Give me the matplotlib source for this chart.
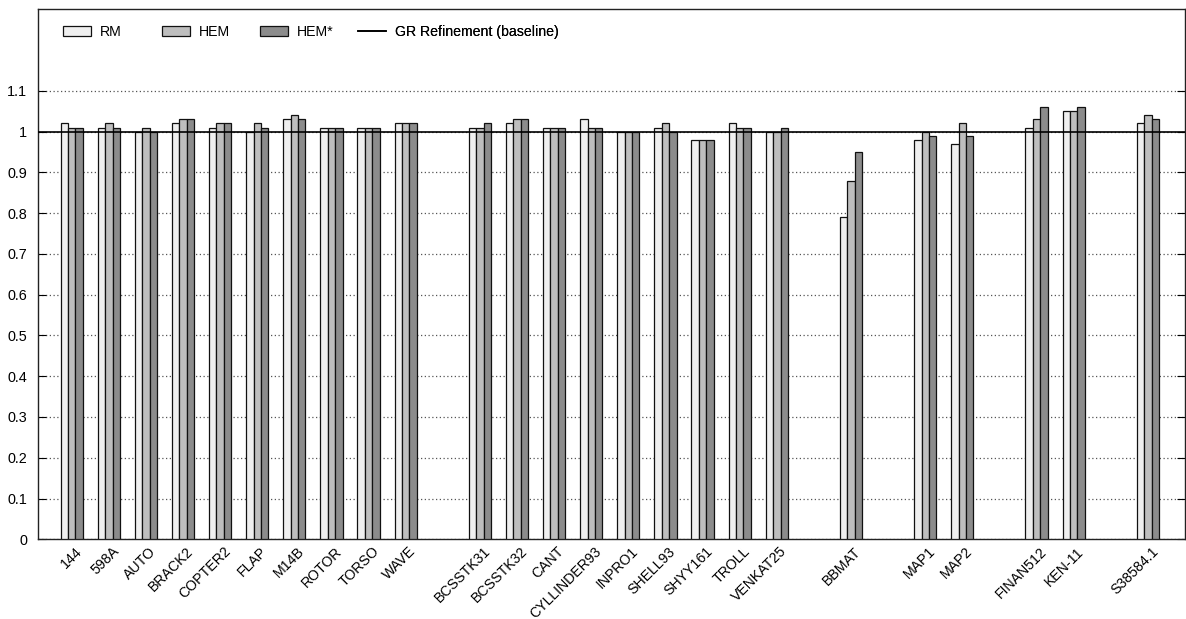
import numpy as np
import matplotlib.pyplot as plt
import matplotlib.transforms as mtransforms

plt.rcParams['font.family'] = ['Liberation Sans', 'DejaVu Sans']

# matrices por posicion en el eje x (huecos entre familias)
nombres = ["144", "598A", "AUTO", "BRACK2", "COPTER2", "FLAP", "M14B", "ROTOR", "TORSO", "WAVE",
           "BCSSTK31", "BCSSTK32", "CANT", "CYLLINDER93", "INPRO1", "SHELL93", "SHYY161", "TROLL", "VENKAT25",
           "BBMAT",
           "MAP1", "MAP2",
           "FINAN512", "KEN-11",
           "S38584.1"]
posiciones = [0, 1, 2, 3, 4, 5, 6, 7, 8, 9,
              11, 12, 13, 14, 15, 16, 17, 18, 19,
              21,
              23, 24,
              26, 27,
              29]

rm = [1.02, 1.01, 1.00, 1.02, 1.01, 1.00, 1.03, 1.01, 1.01, 1.02,
      1.01, 1.02, 1.01, 1.03, 1.00, 1.01, 0.98, 1.02, 1.00,
      0.79,
      0.98, 0.97,
      1.01, 1.05,
      1.02]
hem = [1.01, 1.02, 1.01, 1.03, 1.02, 1.02, 1.04, 1.01, 1.01, 1.02,
       1.01, 1.03, 1.01, 1.01, 1.00, 1.02, 0.98, 1.01, 1.00,
       0.88,
       1.00, 1.02,
       1.03, 1.05,
       1.04]
hem_star = [1.01, 1.01, 1.00, 1.03, 1.02, 1.01, 1.03, 1.01, 1.01, 1.02,
            1.02, 1.03, 1.01, 1.01, 1.00, 1.00, 0.98, 1.01, 1.01,
            0.95,
            0.99, 0.99,
            1.06, 1.06,
            1.03]

y_ticks = [0, 0.1, 0.2, 0.3, 0.4, 0.5, 0.6, 0.7, 0.8, 0.9, 1, 1.1]

fig = plt.figure(figsize=(11.86, 6.19), dpi=100)
ax_izq, ax_der = 38.3, 1185.0
ax = fig.add_axes([ax_izq / 1186, 79.7 / 619, (ax_der - ax_izq) / 1186, (609.7 - 79.7) / 619])

x = np.array(posiciones)
ancho = 0.2
series = [(rm, '#efefef', 'RM'), (hem, '#bebebe', 'HEM'), (hem_star, '#8c8c8c', 'HEM*')]
handles = []
for i, (vals, color, nombre) in enumerate(series):
    b = ax.bar(x + (i - 1) * ancho, vals, width=ancho, color=color, edgecolor='#111111',
               linewidth=0.9, label=nombre, zorder=3)
    handles.append(b)

base = ax.axhline(1.0, color='black', linewidth=1.2, label='GR Refinement (baseline)', zorder=4)
handles.append(base)

ax.set_xlim(-0.9, 30.0)
ax.set_ylim(0, 1.3)
ax.set_yticks(y_ticks)
ax.set_yticklabels(['%g' % t for t in y_ticks])
ax.yaxis.grid(True, linestyle=(0, (1, 2)), color='#555555', linewidth=0.9, zorder=0)
ax.tick_params(axis='y', direction='in', length=6, right=True, labelsize=10.4, pad=8)
ax.tick_params(axis='x', length=0, labelsize=10.2, pad=0)

ax.set_xticks(x)
ax.set_xticklabels(nombres, rotation=45, ha='right', va='center', rotation_mode='anchor')
desplazar = mtransforms.ScaledTranslation(8 / 100, -10 / 100, fig.dpi_scale_trans)
for etiqueta in ax.get_xticklabels():
    etiqueta.set_transform(etiqueta.get_transform() + desplazar)

for lado in ax.spines.values():
    lado.set_linewidth(1.0)
    lado.set_color('#222222')

# leyenda con paso fijo entre entradas (cada una en su propia leyenda)
x_leyenda = [63, 162, 260, 358]
for h, px in zip(handles, x_leyenda):
    ley = ax.legend([h], [h.get_label()], loc='center left',
                    bbox_to_anchor=((px - ax_izq) / (ax_der - ax_izq), 0.957),
                    frameon=False, fontsize=10.2, handlelength=1.95, handleheight=0.66,
                    handletextpad=0.65, borderaxespad=0, borderpad=0)
    ax.add_artist(ley)

fig.savefig('out.png', dpi=100)
